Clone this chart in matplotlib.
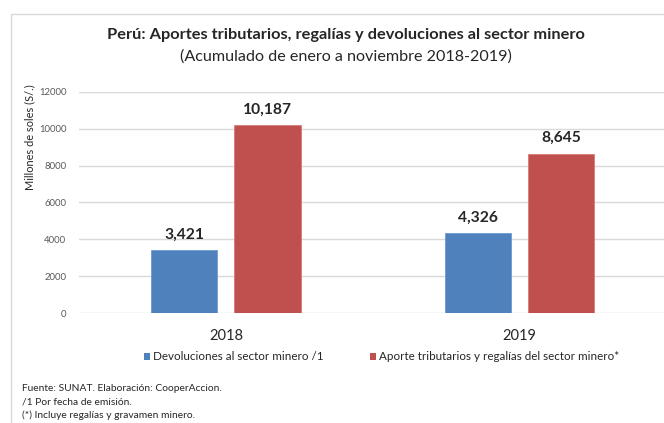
import matplotlib
matplotlib.use("Agg")
import matplotlib.pyplot as plt
from matplotlib.patches import Patch, Rectangle

# ---------------- data ----------------
years = ["2018", "2019"]
devoluciones = [3421, 4326]
aportes = [10187, 8645]
series_names = ["Devoluciones al sector minero /1",
                "Aporte tributarios y regalías del sector minero*"]
yticks = [0, 2000, 4000, 6000, 8000, 10000, 12000]
title = "Perú: Aportes tributarios, regalías y devoluciones al sector minero"
subtitle = "(Acumulado de enero a noviembre 2018-2019)"
ylabel = "Millones de soles (S/.)"
notes = ["Fuente: SUNAT. Elaboración: CooperAccion.",
         "/1 Por fecha de emisión.",
         "(*) Incluye regalías y gravamen minero."]

BLUE = "#4F81BD"
RED = "#C0504D"
GRID = "#D9D9D9"
TXT = "#262626"
TICK = "#595959"

plt.rcParams['font.family'] = ['Lato', 'DejaVu Sans']

W, H = 664, 423
fig = plt.figure(figsize=(W / 100, H / 100), dpi=100)
renderer = fig.canvas.get_renderer()


def fs_for(s, target_px, weight="normal"):
    t = fig.text(0, 0, s, fontsize=10, weight=weight)
    w = t.get_window_extent(renderer).width
    t.remove()
    return 10 * target_px / w


def fx(px):
    return px / W


def fy(py):
    return 1 - py / H


# outer frame
fig.patches.append(Rectangle((fx(11), -0.1), 1.2, fy(14) + 0.1,
                             transform=fig.transFigure, fill=False,
                             edgecolor=GRID, lw=1.0))

# titles
fig.text(fx(346), fy(35), title, ha="center", va="center", weight="bold",
         color=TXT, fontsize=fs_for(title, 478, "bold"))
fig.text(fx(346), fy(57), subtitle, ha="center", va="center",
         color=TXT, fontsize=fs_for(subtitle, 332))

# axes
left, right, top, bottom = 79, 666.6, 91.7, 313.3
ax = fig.add_axes([fx(left), fy(bottom), (right - left) / W, (bottom - top) / H])
ax.set_xlim(-0.5, 1.5)
ax.set_ylim(0, 12000)
for sp in ax.spines.values():
    sp.set_visible(False)
ax.set_yticks(yticks)
ax.set_yticklabels([str(v) for v in yticks])
ax.yaxis.grid(True, color=GRID, lw=1.0)
ax.set_axisbelow(True)
ax.tick_params(axis="y", length=0, pad=9, labelcolor=TICK,
               labelsize=fs_for("12000", 28))
ax.set_xticks(range(len(years)))
ax.set_xticklabels(years)
ax.tick_params(axis="x", length=0, pad=11, labelcolor=TXT,
               labelsize=fs_for("2018", 34))

width = 0.225
off = 0.1415
xs = list(range(len(years)))
b1 = ax.bar([x - off for x in xs], devoluciones, width, color=BLUE,
            edgecolor="#6C9AD0", lw=0.6)
b2 = ax.bar([x + off for x in xs], aportes, width, color=RED,
            edgecolor="#D97A77", lw=0.6)

lab_fs = fs_for("10,187", 49, "bold")
for xpos, vals in ((-off, devoluciones), (off, aportes)):
    for i, v in enumerate(vals):
        ax.annotate(f"{v:,}", (i + xpos, v), xytext=(0, 15.5 * 0.72),
                    textcoords="offset points", ha="center", va="center",
                    weight="bold", color=TXT, fontsize=lab_fs)

# y label
fig.text(fx(30), fy(137), ylabel, rotation=90, ha="center", va="center",
         color=TXT, fontsize=fs_for(ylabel, 105))

# legend
leg_fs = fs_for(series_names[0], 170)
handles = [Patch(facecolor=BLUE, edgecolor="none", label=series_names[0]),
           Patch(facecolor=RED, edgecolor="none", label=series_names[1])]
fig.legend(handles=handles, loc="center", bbox_to_anchor=(fx(381.5), fy(356.7)),
           ncol=2, frameon=False, fontsize=leg_fs, handlelength=0.55,
           handleheight=0.55, handletextpad=0.25, columnspacing=4.0,
           borderpad=0, labelcolor=TXT)

# notes
note_fs = fs_for(notes[0], 200)
for i, n in enumerate(notes):
    fig.text(fx(22), fy(388 + 13.8 * i), n, ha="left", va="center",
             color=TXT, fontsize=note_fs)

fig.savefig("out.png", dpi=100)
